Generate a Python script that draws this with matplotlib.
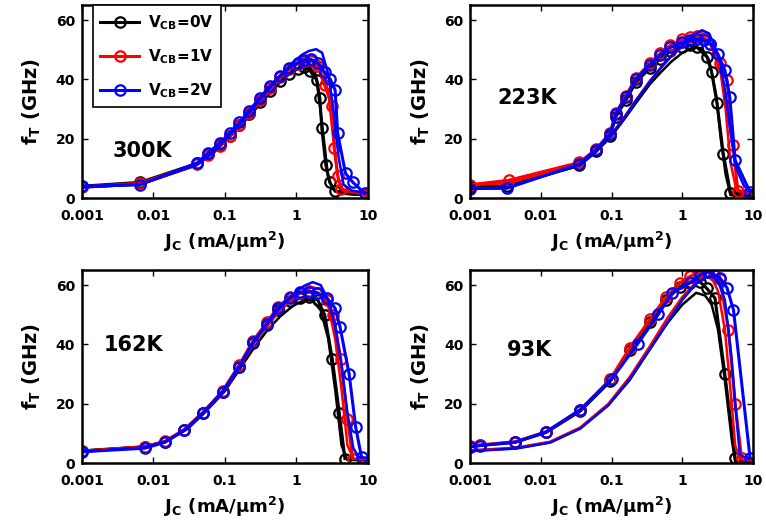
import matplotlib
matplotlib.use("Agg")
import matplotlib.pyplot as plt
from matplotlib.ticker import FixedLocator, FixedFormatter

plt.rcParams['font.family'] = ['DejaVu Sans']
plt.rcParams['font.weight'] = 'bold'
plt.rcParams['mathtext.default'] = 'bf'

# ---- data ----
colors = ['black', 'red', 'blue']
vcb_labels = [r'V$_{\mathbf{CB}}$=0V', r'V$_{\mathbf{CB}}$=1V', r'V$_{\mathbf{CB}}$=2V']
temps = ['300K', '223K', '162K', '93K']
xtick_vals = [0.001, 0.01, 0.1, 1, 10]
xtick_text = ['0.001', '0.01', '0.1', '1', '10']
ytick_vals = [0, 20, 40, 60]

# 300K measured
j300_m0 = [0.001, 0.0065, 0.041, 0.058, 0.085, 0.117, 0.16, 0.22, 0.31, 0.43, 0.6, 0.8, 1.05, 1.3, 1.55, 1.94, 2.14, 2.28, 2.6, 2.94, 3.5, 9.5]
f300_m0 = [4.0, 5.3, 11.7, 14.8, 17.8, 21.0, 24.5, 28.3, 32.5, 36.2, 39.5, 42.0, 43.6, 44.3, 43.0, 39.8, 33.7, 23.5, 11.0, 5.3, 2.3, 1.0]
j300_m1 = [0.001, 0.0065, 0.041, 0.058, 0.085, 0.117, 0.16, 0.22, 0.31, 0.43, 0.6, 0.8, 1.05, 1.3, 1.6, 2.0, 2.5, 3.2, 3.4, 3.8, 4.3, 9.5]
f300_m1 = [3.8, 5.0, 11.5, 14.6, 17.6, 21.0, 24.8, 28.8, 33.2, 37.2, 40.8, 43.5, 45.3, 46.3, 46.5, 44.5, 38.0, 31.0, 17.0, 7.5, 3.0, 1.0]
j300_m2 = [0.001, 0.0065, 0.041, 0.058, 0.085, 0.117, 0.16, 0.22, 0.31, 0.43, 0.6, 0.8, 1.05, 1.3, 1.6, 2.0, 2.5, 3.0, 3.5, 3.8, 4.9, 6.2, 9.1]
f300_m2 = [4.0, 4.5, 11.8, 15.2, 18.5, 22.0, 25.5, 29.5, 33.8, 37.8, 41.3, 44.0, 45.6, 46.5, 46.8, 45.5, 42.5, 40.0, 36.4, 21.8, 8.3, 5.3, 1.6]
# 300K simulated
j300_s = [0.001, 0.0065, 0.04, 0.07, 0.1, 0.15, 0.22, 0.32, 0.45, 0.65, 0.9, 1.2, 1.5, 1.9, 2.3, 2.8, 3.3, 3.9, 4.6, 6.0, 10]
f300_s0 = [3.6, 4.6, 11.0, 15.3, 19.0, 23.2, 27.6, 32.0, 36.0, 40.0, 42.8, 44.3, 44.6, 41.0, 25.0, 7.0, 3.0, 2.0, 1.5, 1.2, 1.0]
f300_s1 = [3.6, 4.6, 11.1, 15.5, 19.3, 23.6, 28.2, 32.8, 37.0, 41.3, 44.5, 46.8, 48.0, 47.5, 44.0, 36.0, 20.0, 6.0, 2.5, 2.0, 1.5]
f300_s2 = [3.6, 4.6, 11.2, 15.7, 19.6, 24.0, 28.8, 33.5, 37.8, 42.3, 45.8, 48.3, 49.6, 50.2, 49.0, 42.0, 30.0, 14.0, 4.5, 2.5, 1.8]

# 223K measured
j223_m0 = [0.001, 0.0033, 0.035, 0.06, 0.095, 0.115, 0.159, 0.22, 0.35, 0.49, 0.68, 1.0, 1.3, 1.6, 2.24, 2.6, 3.1, 3.8, 4.8, 9.5]
f223_m0 = [3.8, 4.0, 11.0, 16.0, 21.0, 27.5, 33.0, 39.0, 44.0, 47.0, 49.5, 51.0, 51.5, 51.0, 47.5, 42.5, 32.0, 15.0, 1.8, 1.2]
j223_m1 = [0.001, 0.0035, 0.035, 0.06, 0.095, 0.115, 0.159, 0.22, 0.35, 0.49, 0.68, 1.0, 1.3, 1.6, 2.0, 2.5, 3.4, 4.3, 5.2, 6.1, 8.2]
f223_m1 = [4.5, 6.0, 12.0, 16.5, 22.0, 28.8, 34.5, 40.5, 45.5, 48.8, 51.5, 53.5, 54.3, 54.5, 54.0, 52.0, 45.5, 39.8, 18.0, 2.5, 1.5]
j223_m2 = [0.001, 0.0033, 0.035, 0.06, 0.095, 0.115, 0.159, 0.22, 0.35, 0.49, 0.68, 1.0, 1.3, 1.6, 2.0, 2.5, 3.2, 4.0, 4.7, 5.6, 9.1]
f223_m2 = [3.2, 3.3, 11.5, 16.3, 21.5, 28.5, 34.0, 40.0, 45.0, 48.3, 50.8, 52.5, 53.2, 53.5, 53.2, 52.0, 48.5, 43.1, 34.0, 12.7, 2.0]
# 223K simulated
j223_s = [0.001, 0.0033, 0.035, 0.06, 0.1, 0.15, 0.22, 0.35, 0.5, 0.7, 1.0, 1.4, 1.9, 2.4, 3.0, 3.5, 4.1, 4.8, 5.8, 7.5, 10]
f223_s0 = [3.6, 4.0, 11.0, 15.5, 21.0, 26.5, 32.0, 38.5, 42.5, 46.0, 49.0, 50.8, 50.5, 46.5, 35.0, 20.0, 8.0, 1.0, 0.8, 0.8, 0.8]
f223_s1 = [4.4, 5.0, 11.5, 16.0, 21.6, 27.2, 33.0, 39.6, 44.0, 47.8, 51.0, 53.5, 54.5, 53.0, 47.0, 42.0, 30.0, 12.0, 3.0, 2.0, 1.5]
f223_s2 = [3.2, 3.5, 11.3, 15.8, 21.4, 27.0, 32.8, 39.4, 44.0, 48.0, 51.5, 54.8, 56.6, 55.5, 50.0, 45.0, 35.0, 22.0, 10.0, 4.0, 2.0]

# 162K measured
j162_m0 = [0.001, 0.0076, 0.0145, 0.027, 0.049, 0.093, 0.158, 0.25, 0.39, 0.55, 0.81, 1.12, 1.5, 2.0, 2.5, 3.2, 4.0, 4.8]
f162_m0 = [4.0, 5.4, 7.1, 11.1, 16.8, 24.0, 32.4, 40.5, 46.5, 51.5, 54.5, 55.5, 56.0, 55.0, 50.0, 35.0, 17.0, 1.5]
j162_m1 = [0.001, 0.0076, 0.0145, 0.027, 0.049, 0.093, 0.158, 0.25, 0.39, 0.55, 0.81, 1.12, 1.5, 2.0, 2.7, 3.3, 4.2, 5.2, 6.2]
f162_m1 = [4.0, 5.5, 7.3, 11.3, 17.0, 24.3, 33.0, 41.3, 47.5, 52.5, 56.0, 57.5, 58.0, 57.5, 55.0, 50.0, 35.0, 15.0, 1.5]
j162_m2 = [0.001, 0.0076, 0.0145, 0.027, 0.049, 0.093, 0.158, 0.25, 0.39, 0.55, 0.81, 1.12, 1.5, 1.94, 2.7, 3.5, 4.1, 5.5, 6.8, 8.2]
f162_m2 = [3.8, 5.0, 7.0, 11.0, 16.8, 24.0, 32.4, 40.8, 47.0, 52.2, 55.6, 57.6, 57.8, 57.3, 55.6, 52.2, 45.9, 30.0, 12.0, 2.0]
# 162K simulated
j162_s = [0.001, 0.0076, 0.015, 0.03, 0.05, 0.1, 0.16, 0.25, 0.4, 0.6, 0.9, 1.3, 1.7, 2.2, 2.8, 3.5, 4.3, 5.2, 6.3, 7.5, 10]
f162_s0 = [4.2, 5.6, 7.4, 11.5, 16.5, 24.2, 31.5, 38.5, 45.0, 49.5, 53.0, 55.0, 54.8, 51.5, 42.0, 25.0, 6.0, 1.0, 1.0, 1.0, 1.0]
f162_s1 = [4.0, 5.5, 7.4, 11.6, 16.8, 24.6, 32.3, 40.0, 46.5, 51.5, 55.5, 58.3, 59.3, 58.5, 53.0, 42.0, 25.0, 6.0, 1.5, 1.3, 1.2]
f162_s2 = [3.8, 5.3, 7.3, 11.6, 16.9, 24.8, 32.6, 40.5, 47.2, 52.5, 56.8, 59.8, 61.0, 60.0, 55.0, 46.0, 33.0, 17.0, 5.0, 2.0, 1.8]

# 93K measured
j93_m0 = [0.001, 0.00139, 0.0043, 0.0118, 0.036, 0.095, 0.18, 0.35, 0.59, 0.93, 1.3, 1.8, 2.2, 2.9, 4.0, 5.6]
f93_m0 = [5.5, 6.0, 7.0, 10.3, 17.5, 27.5, 38.0, 47.5, 55.0, 59.5, 61.0, 61.0, 59.0, 55.6, 30.0, 1.6]
j93_m1 = [0.001, 0.00139, 0.0043, 0.0118, 0.036, 0.095, 0.18, 0.35, 0.59, 0.93, 1.3, 1.8, 2.2, 2.8, 3.4, 4.5, 5.6, 6.9]
f93_m1 = [5.6, 6.1, 7.2, 10.5, 17.9, 28.2, 38.8, 48.5, 56.0, 60.8, 63.0, 64.5, 64.5, 63.5, 62.0, 45.0, 20.0, 1.6]
j93_m2 = [0.001, 0.00139, 0.0043, 0.0118, 0.036, 0.1, 0.235, 0.46, 0.72, 1.3, 1.8, 2.3, 3.4, 4.3, 5.3, 9.1]
f93_m2 = [5.4, 5.9, 7.0, 10.5, 18.0, 28.3, 40.3, 50.2, 57.4, 60.8, 63.5, 64.5, 62.5, 59.0, 51.6, 1.6]
# 93K simulated
j93_s = [0.001, 0.0045, 0.0135, 0.036, 0.09, 0.18, 0.35, 0.62, 1.0, 1.57, 2.1, 2.6, 3.2, 4.0, 5.0, 5.6, 6.5, 7.5, 9.0, 10]
f93_s0 = [4.1, 5.0, 7.0, 11.8, 19.6, 28.0, 38.5, 47.3, 53.4, 57.4, 56.5, 53.4, 45.0, 28.0, 8.0, 0.5, 0.5, 0.5, 0.5, 0.5]
f93_s1 = [4.3, 5.2, 7.2, 12.0, 20.0, 29.0, 39.5, 49.0, 56.0, 61.0, 63.0, 62.5, 58.0, 45.0, 20.0, 6.0, 1.5, 1.0, 1.0, 1.0]
f93_s2 = [4.0, 4.9, 6.9, 11.6, 19.5, 28.3, 38.5, 47.5, 55.0, 60.5, 62.5, 63.0, 61.5, 55.0, 35.0, 20.0, 3.0, 2.0, 1.5, 1.5]

meas = [
    [(j300_m0, f300_m0), (j300_m1, f300_m1), (j300_m2, f300_m2)],
    [(j223_m0, f223_m0), (j223_m1, f223_m1), (j223_m2, f223_m2)],
    [(j162_m0, f162_m0), (j162_m1, f162_m1), (j162_m2, f162_m2)],
    [(j93_m0, f93_m0), (j93_m1, f93_m1), (j93_m2, f93_m2)],
]
sims = [
    (j300_s, [f300_s0, f300_s1, f300_s2]),
    (j223_s, [f223_s0, f223_s1, f223_s2]),
    (j162_s, [f162_s0, f162_s1, f162_s2]),
    (j93_s, [f93_s0, f93_s1, f93_s2]),
]

# axes positions (fig fraction) and temperature label spots (axes fraction)
positions = [[0.107, 0.627, 0.373, 0.363], [0.614, 0.627, 0.369, 0.363],
             [0.107, 0.128, 0.373, 0.363], [0.614, 0.128, 0.369, 0.363]]
temp_xy = [(0.213, 0.242), (0.20, 0.52), (0.18, 0.61), (0.21, 0.585)]

fig = plt.figure(figsize=(7.66, 5.31), dpi=100)

for k in range(4):
    ax = fig.add_axes(positions[k])
    js, fs_list = sims[k]
    handles = []
    for c in range(3):
        ax.plot(js, fs_list[c], '-', color=colors[c], lw=1.8)
        jm, fm = meas[k][c]
        h, = ax.plot(jm, fm, '-o', color=colors[c], lw=2.2, ms=7.5,
                     mfc='none', mew=1.6, label=vcb_labels[c])
        handles.append(h)
    ax.set_xscale('log')
    ax.set_xlim(0.001, 10)
    ax.set_ylim(0, 65)
    ax.xaxis.set_major_locator(FixedLocator(xtick_vals))
    ax.xaxis.set_major_formatter(FixedFormatter(xtick_text))
    ax.xaxis.set_minor_locator(FixedLocator([]))
    ax.set_yticks(ytick_vals)
    ax.tick_params(direction='in', top=True, right=True, length=4, width=1,
                   labelsize=10)
    ax.tick_params(axis='x', pad=8)
    ax.tick_params(axis='y', pad=5)
    for lab in ax.get_xticklabels() + ax.get_yticklabels():
        lab.set_fontweight('bold')
    for sp in ax.spines.values():
        sp.set_linewidth(1.8)
    ax.set_xlabel(r'J$_\mathbf{C}$ (mA/$\mathbf{\mu}$m$^\mathbf{2}$)', fontsize=13,
                  fontweight='bold', labelpad=5)
    ax.set_ylabel(r'f$_\mathbf{T}$ (GHz)', fontsize=14, fontweight='bold', labelpad=9)
    ax.text(temp_xy[k][0], temp_xy[k][1], temps[k], transform=ax.transAxes,
            fontsize=15, fontweight='bold', ha='center', va='center')
    if k == 0:
        leg = ax.legend(handles=handles, loc='upper left', bbox_to_anchor=(0.038, 1.0),
                        borderaxespad=0, fontsize=11, handlelength=2.5,
                        labelspacing=1.0, fancybox=False, framealpha=1,
                        edgecolor='black', borderpad=0.5, handletextpad=0.6)
        leg.get_frame().set_linewidth(1.2)
        for t in leg.get_texts():
            t.set_fontweight('bold')

fig.savefig('out.png', dpi=100)
